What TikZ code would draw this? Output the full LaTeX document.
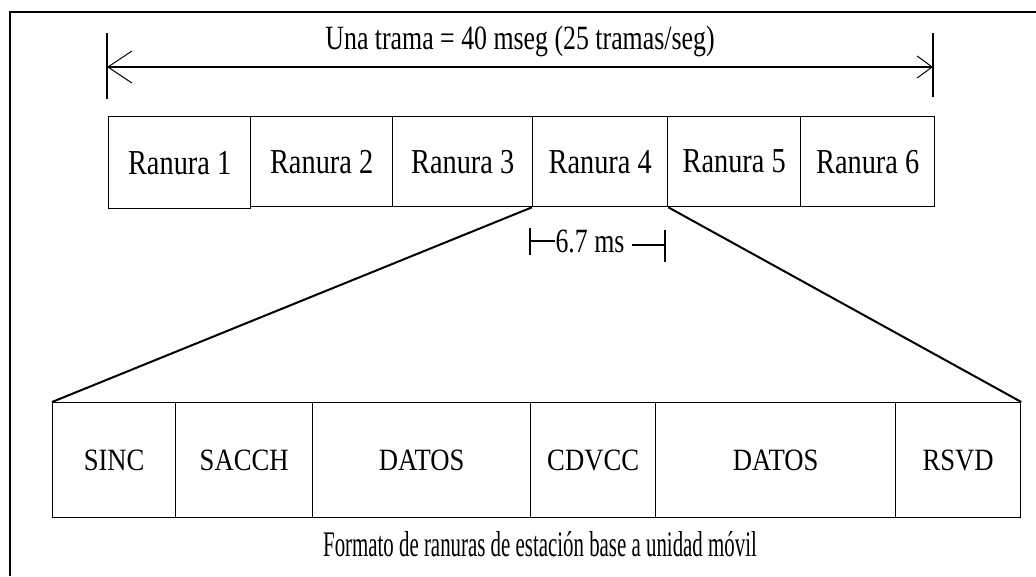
\documentclass[tikz,border=0pt]{standalone}
\usepackage{fontspec}
\setmainfont{Liberation Serif}
\newfontfamily\rfont[FakeStretch=0.76]{Liberation Serif}
\newfontfamily\sfontx[FakeStretch=0.81]{Liberation Serif}
\newfontfamily\bfontx[FakeStretch=0.86]{Liberation Serif}
\newfontfamily\cfont[FakeStretch=0.58]{Liberation Serif}
\usetikzlibrary{arrows.meta}
\tikzset{
  slot/.style={draw, line width=1.3pt, minimum height=90pt, inner sep=0pt, anchor=north west,
    font=\sfontx\fontsize{35}{37}\selectfont},
  field/.style={draw, line width=1.3pt, minimum height=115pt, inner sep=0pt, anchor=north west,
    font=\bfontx\fontsize{31}{33}\selectfont},
  lbl/.style={inner sep=0pt, font=\rfont\fontsize{34}{36}\selectfont},
  tick/.style={line width=1.6pt},
  fan/.style={line width=2pt},
  dim/.style={line width=1.5pt, {Straight Barb[length=24pt,width=32pt,line width=1pt]}-{Straight Barb[length=15pt,width=22pt,line width=1pt]}}
}
\begin{document}
\begin{tikzpicture}[x=1pt,y=-1pt]
\useasboundingbox (0,0) rectangle (1036,576);
\fill[white] (0,0) rectangle (1036,576);
% frame
\draw[line width=2.4pt] (10,576) -- (10,12) -- (1036,12);
% top dimension
\coordinate (ta1) at (107,33); \coordinate (ta2) at (107,99);
\coordinate (tb1) at (933,33); \coordinate (tb2) at (933,97);
\coordinate (tl) at (107,67); \coordinate (tr) at (933,67);
\draw[tick] (ta1) -- (ta2);
\draw[tick] (tb1) -- (tb2);
\draw[dim] (tl) -- (tr);
\node[lbl] (title) at (520,41) {Una trama = 40 mseg (25 tramas/seg)};
% slots
\node[slot, minimum width=142pt, minimum height=92pt] (r1) at (108,116) {Ranura 1};
\node[slot, minimum width=142pt] (r2) at (250,116) {Ranura 2};
\node[slot, minimum width=140pt] (r3) at (392,116) {Ranura 3};
\node[slot, minimum width=135pt] (r4) at (532,116) {Ranura 4};
\node[slot, minimum width=133pt] (r5) at (667,116) {Ranura 5};
\node[slot, minimum width=134pt] (r6) at (800,116) {Ranura 6};
% 6.7 ms
\node[lbl] (ms) at (590,241) {6.7 ms};
\coordinate (la1) at (530,228); \coordinate (la2) at (530,255); \coordinate (lm) at (530,241);
\coordinate (ra1) at (665,230); \coordinate (ra2) at (665,262); \coordinate (rm) at (665,245);
\coordinate (msr) at (632,245);
\draw[tick] (la1) -- (la2);
\draw[tick] (lm) -- (ms.west);
\draw[tick] (msr) -- (rm);
\draw[tick] (ra1) -- (ra2);
% fields
\node[field, minimum width=123pt] (f1) at (52,402) {SINC};
\node[field, minimum width=137pt] (f2) at (175,402) {SACCH};
\node[field, minimum width=218pt] (f3) at (312,402) {DATOS};
\node[field, minimum width=125pt] (f4) at (530,402) {CDVCC};
\node[field, minimum width=240pt] (f5) at (655,402) {DATOS};
\node[field, minimum width=125pt] (f6) at (895,402) {RSVD};
% fan lines
\draw[fan] (r4.south west) -- (f1.north west);
\draw[fan] (r4.south east) -- (f6.north east);
% caption
\node[inner sep=0pt, font=\cfont\fontsize{36}{38}\selectfont] (cap) at (540,544) {Formato de ranuras de estación base a unidad móvil};
\end{tikzpicture}
\end{document}
